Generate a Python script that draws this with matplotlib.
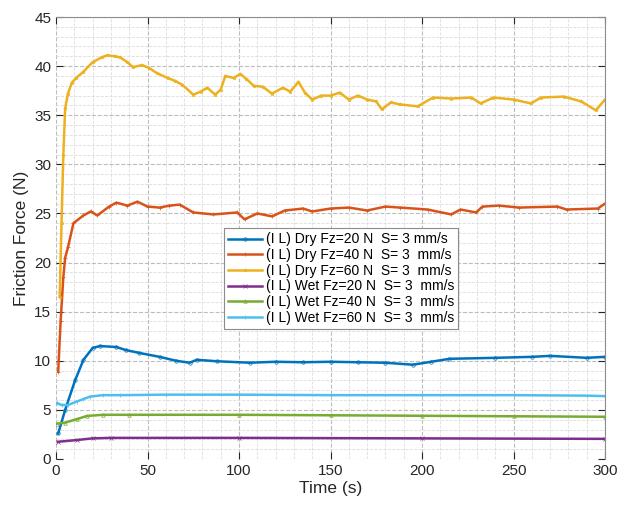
import matplotlib
matplotlib.use('Agg')
import matplotlib.pyplot as plt
from matplotlib.ticker import MultipleLocator

plt.rcParams['font.family'] = ['Liberation Sans', 'DejaVu Sans']

# Dry, Fz = 60 N
t_dry60 = [2, 3, 4, 5, 6.5, 8.6, 11, 14.8, 20, 25, 28, 32, 35, 39, 42, 47, 51, 55, 61, 65,
           69, 75, 79, 82.6, 87, 90, 92.5, 97, 100.7, 104, 108, 113, 118, 124, 128, 132.5,
           136, 140, 145, 150, 155, 160, 165, 170, 175, 178, 183, 188, 197.6, 206, 216, 227,
           232, 239, 250, 259.5, 265, 277.6, 287, 295, 300]
f_dry60 = [16.5, 24, 31, 35.7, 37.2, 38.3, 38.8, 39.4, 40.4, 40.9, 41.1, 41.0, 40.9, 40.4,
           39.9, 40.1, 39.8, 39.3, 38.8, 38.5, 38.1, 37.1, 37.4, 37.8, 37.1, 37.6, 39.0, 38.8,
           39.2, 38.7, 38.0, 37.9, 37.2, 37.8, 37.4, 38.4, 37.3, 36.6, 37.0, 37.0, 37.3, 36.6,
           37.0, 36.6, 36.4, 35.6, 36.3, 36.1, 35.9, 36.8, 36.7, 36.8, 36.2, 36.8, 36.6, 36.2,
           36.8, 36.9, 36.4, 35.5, 36.6]

# Dry, Fz = 40 N
t_dry40 = [1.2, 2.5, 4, 5, 6.6, 9.5, 15, 19, 22.6, 29, 33, 39, 44.5, 50, 56.6, 62, 67.6, 75,
           86, 99, 103, 110, 118, 125, 135, 140, 150, 160, 170, 180, 188, 203, 216, 221, 229.6,
           233, 242, 253, 274, 279, 296, 300]
f_dry40 = [8.9, 14, 18.5, 20.5, 21.6, 24.0, 24.8, 25.2, 24.8, 25.7, 26.1, 25.8, 26.2, 25.7,
           25.6, 25.8, 25.9, 25.1, 24.9, 25.1, 24.4, 25.0, 24.7, 25.3, 25.5, 25.2, 25.5, 25.6,
           25.3, 25.7, 25.6, 25.4, 24.9, 25.4, 25.1, 25.7, 25.8, 25.6, 25.7, 25.4, 25.5, 26.0]

# Dry, Fz = 20 N
t_dry20 = [1.2, 5, 10.4, 15, 20, 24, 33, 38, 45.5, 56.6, 65.7, 73, 77, 88, 106, 120, 135, 150,
           165, 180, 195, 205, 215, 240, 260, 270, 290, 300]
f_dry20 = [2.6, 5.0, 8.0, 10.1, 11.3, 11.5, 11.4, 11.1, 10.8, 10.4, 10.0, 9.8, 10.1, 9.95,
           9.8, 9.9, 9.85, 9.9, 9.85, 9.8, 9.6, 9.9, 10.2, 10.3, 10.4, 10.5, 10.3, 10.4]

# Wet, Fz = 20 / 40 / 60 N
t_wet20 = [1, 11.3, 20, 30, 100, 200, 300]
f_wet20 = [1.75, 1.93, 2.1, 2.15, 2.15, 2.1, 2.05]

t_wet40 = [0.5, 4.9, 11.3, 16.8, 25.7, 40, 100, 150, 200, 250, 300]
f_wet40 = [3.6, 3.7, 4.05, 4.38, 4.5, 4.5, 4.5, 4.45, 4.4, 4.35, 4.3]

t_wet60 = [0.5, 3, 6.6, 11.3, 15, 18.6, 25.7, 35, 60, 100, 150, 200, 250, 290, 300]
f_wet60 = [5.7, 5.5, 5.5, 5.85, 6.1, 6.35, 6.5, 6.5, 6.55, 6.55, 6.5, 6.5, 6.5, 6.45, 6.4]

series = [
    (t_dry20, f_dry20, '(I L) Dry Fz=20 N  S= 3 mm/s', '#0072BD', 'o'),
    (t_dry40, f_dry40, '(I L) Dry Fz=40 N  S= 3  mm/s', '#D95319', '+'),
    (t_dry60, f_dry60, '(I L) Dry Fz=60 N  S= 3  mm/s', '#EDB120', '*'),
    (t_wet20, f_wet20, '(I L) Wet Fz=20 N  S= 3  mm/s', '#7E2F8E', 'x'),
    (t_wet40, f_wet40, '(I L) Wet Fz=40 N  S= 3  mm/s', '#77AC30', '^'),
    (t_wet60, f_wet60, '(I L) Wet Fz=60 N  S= 3  mm/s', '#4DBEEE', '|'),
]

fig = plt.figure(figsize=(6.28, 5.05), dpi=100)
ax = fig.add_axes([0.0892, 0.0911, 0.8742, 0.8752])

for t, f, lab, col, mk in series:
    ax.plot(t, f, color=col, lw=1.8, marker=mk, markersize=2.5, markerfacecolor='none',
            markeredgewidth=0.5, label=lab)

ax.set_xlim(0, 300)
ax.set_ylim(0, 45)
ax.xaxis.set_major_locator(MultipleLocator(50))
ax.xaxis.set_minor_locator(MultipleLocator(10))
ax.yaxis.set_major_locator(MultipleLocator(5))
ax.yaxis.set_minor_locator(MultipleLocator(1))
ax.grid(which='major', ls='--', color='#bdbdbd', lw=0.8)
ax.grid(which='minor', ls='--', color='#dddddd', lw=0.6)
ax.set_axisbelow(True)

ax.tick_params(which='major', direction='in', length=5, top=True, right=True,
               colors='#262626', labelsize=11, width=0.8)
ax.tick_params(which='minor', length=0)
for s in ['left', 'bottom']:
    ax.spines[s].set_visible(False)
for s in ['top', 'right']:
    ax.spines[s].set_color('#8c8c8c')

ax.set_xlabel('Time (s)', fontsize=12.5, color='#262626', labelpad=2)
ax.set_ylabel('Friction Force (N)', fontsize=12.5, color='#262626', labelpad=4)

leg = ax.legend(loc='upper left', bbox_to_anchor=(0.306, 0.522), fontsize=10,
                handlelength=2.4, handletextpad=0.3, labelspacing=0.12, borderpad=0.3,
                borderaxespad=0, fancybox=False, framealpha=1)
leg.get_frame().set_edgecolor('#8c8c8c')
leg.get_frame().set_linewidth(0.8)

fig.savefig('out.png', dpi=100)
